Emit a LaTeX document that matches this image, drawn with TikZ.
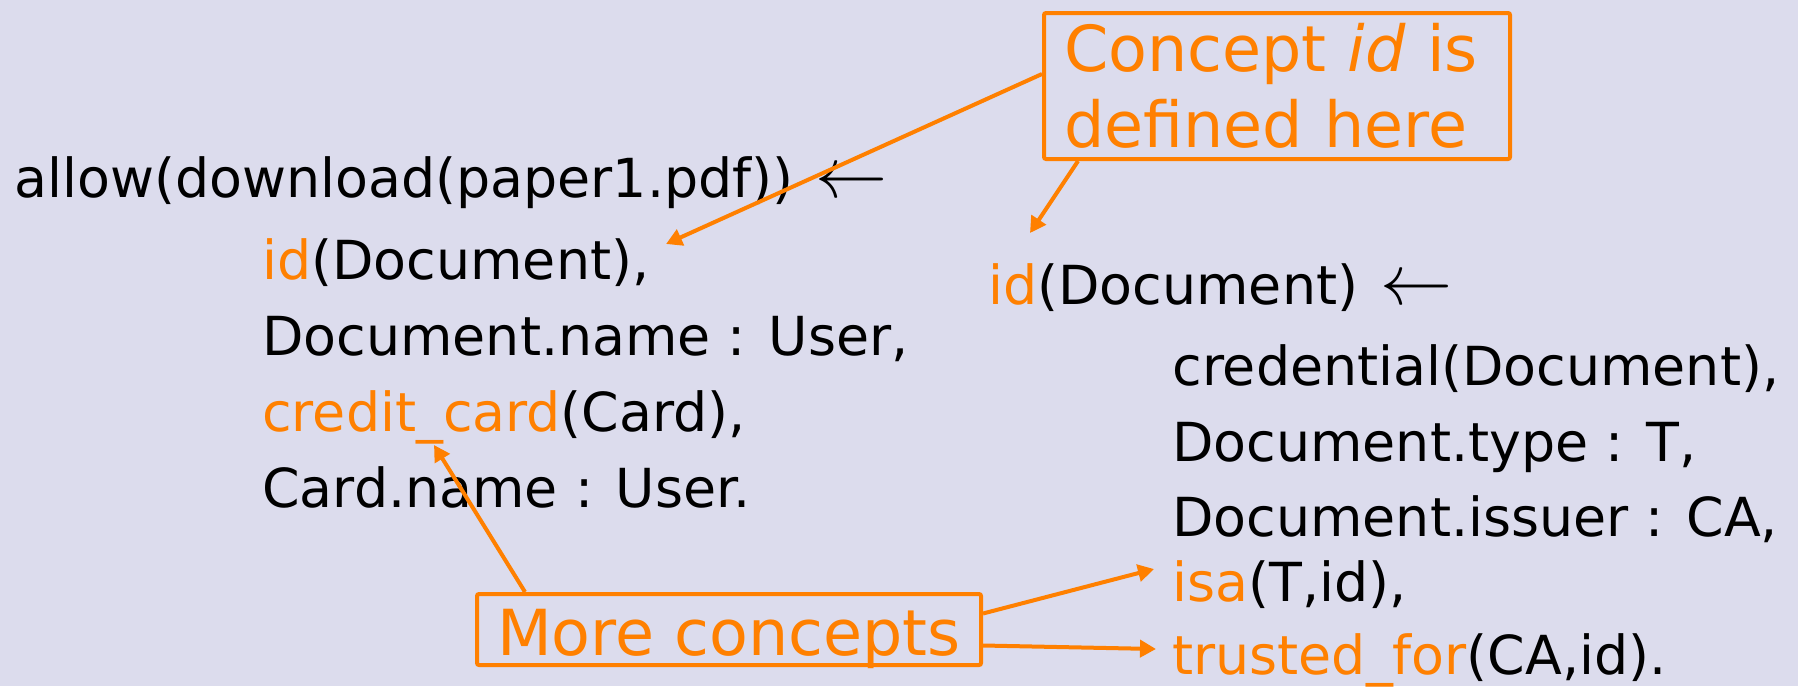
\RequirePackage{fix-cm}
\documentclass[tikz,border=0pt]{standalone}
\usepackage{fontspec}
\setmainfont{DejaVu Sans}
\usepackage{tikz}
\usetikzlibrary{arrows.meta}
\definecolor{slide}{RGB}{220,220,237}
\definecolor{hot}{RGB}{255,128,0}
\newcommand{\rulesize}{\fontsize{26.9}{38}\selectfont}
\newcommand{\notesize}{\fontsize{31.75}{38}\selectfont}
\newcommand{\cpt}[1]{\textcolor{hot}{#1}}
\newcommand{\ruleArrow}{\hspace{11pt}{\fontsize{36}{38}\selectfont$\leftarrow$}}
\tikzstyle{lit}=[anchor=base west, inner sep=0pt, font=\rulesize]
\tikzstyle{notebox}=[draw=hot, line width=2pt, rounded corners=1pt, text=hot, font=\notesize, inner sep=0pt]
\tikzstyle{pointer}=[draw=hot, line width=2pt, -{Triangle[length=8pt,width=8.5pt]}]
\begin{document}
\begin{tikzpicture}[x=0.5pt,y=-0.5pt]
	%The slide background
	\fill[slide] (0,0) rectangle (1798,686);
	\useasboundingbox (0,0) rectangle (1798,686);

	%The first rule
	\node[lit] (a0) at (14,197) {allow(download(paper1.pdf))\ruleArrow};
	\node[lit] (a1) at (262,279) {\cpt{id}(Document),};
	\node[lit] (a2) at (262,355) {Document.name : User,};
	\node[lit] (a3) at (262,431) {\cpt{credit\_card}(Card),};
	\node[lit] (a4) at (262,507) {Card.name : User.};

	%The second rule
	\node[lit] (b0) at (988,304) {\cpt{id}(Document)\ruleArrow};
	\node[lit] (b1) at (1172,385) {credential(Document),};
	\node[lit] (b2) at (1172,461) {Document.type : T,};
	\node[lit] (b3) at (1172,536) {Document.issuer : CA,};
	\node[lit] (b4) at (1172,601) {\cpt{isa}(T,id),};
	\node[lit] (b5) at (1172,674) {\cpt{trusted\_for}(CA,id).};

	%The notes
	\node[notebox, minimum width=233pt, minimum height=73pt, inner xsep=10pt, text width=213pt, align=left] (defnote) at (1277,86) {Concept \textit{id} is\\defined here};
	\node[notebox, minimum width=252pt, text height=30.5pt, text depth=5pt, anchor=base] (morenote) at (729,655) {More concepts};

	%The pointers
	\coordinate (tid) at (666,244);
	\coordinate (tdef) at (1030,233);
	\coordinate (tcard) at (434,445);
	\coordinate (tisa) at (1154,569);
	\coordinate (ttrust) at (1156,649);
	\draw[pointer] ([yshift=6pt]defnote.west) -- (tid);
	\draw[pointer] ([xshift=18pt]defnote.south west) -- (tdef);
	\draw[pointer] ([xshift=25pt]morenote.north west) -- (tcard);
	\draw[pointer] ([yshift=8pt]morenote.east) -- (tisa);
	\draw[pointer] ([yshift=-8pt]morenote.east) -- (ttrust);
\end{tikzpicture}
\end{document}
